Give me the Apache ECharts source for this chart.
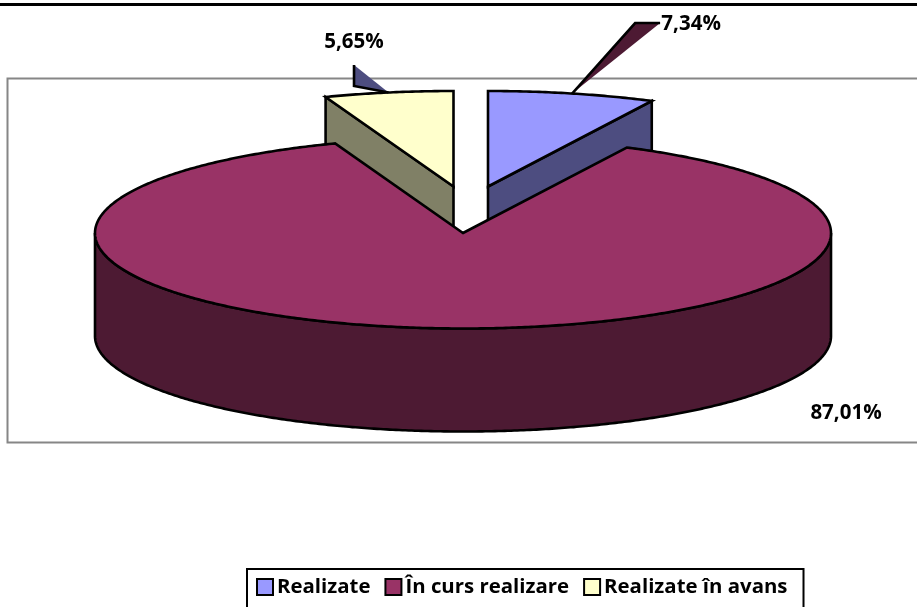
<!DOCTYPE html>
<html><head><meta charset="utf-8">
<style>html,body{margin:0;padding:0;background:#fff;overflow:hidden}#c{width:917px;height:607px}</style>
<script src="https://cdn.jsdelivr.net/npm/echarts@6/dist/echarts.min.js"></script></head>
<body><div id="c"></div>
<script>
const categories = ['Realizate', 'În curs realizare', 'Realizate în avans'];
const shares = [7.34, 87.01, 5.65];
const topColors = ['#9999ff', '#993366', '#ffffcc'];
const sideColors = ['#4d4d80', '#4d1a33', '#808066'];

// pie geometry
const CX = 463, CY = 233, RX = 368, RY = 95.5, DEPTH = 103, LW = 2.6;
const FONT = '"Open Sans"';
const slices = [
  { dx: 25, dy: -46.5, z: 2, labelOff: [119, -69.5], leader: { pts: [[63, -70.5], [88, -70.5]], fill: '#4d1a33' } },
  { dx: 0, dy: 0, z: 3, labelAbs: [846, 413] },
  { dx: -9.5, dy: -46.5, z: 2, labelOff: [-34.5, -50.5], leader: { pts: [[-34.5, -27.5], [-34.5, -6.5]], fill: '#4d4d80' } }
];
const total = shares.reduce((a, b) => a + b, 0);
const rad = d => d * Math.PI / 180;
function rim(cx, cy, deg, drop) {
  return [cx + RX * Math.sin(rad(deg)), cy - RY * Math.cos(rad(deg)) + (drop || 0)];
}
function arc(cx, cy, a, b, drop) {
  const n = Math.max(2, Math.ceil(Math.abs(b - a) * 2)), out = [];
  for (let i = 0; i <= n; i++) out.push(rim(cx, cy, a + (b - a) * i / n, drop));
  return out;
}
const fmt = v => v.toFixed(2).replace('.', ',') + '%';
function poly(points, fill, stroke) {
  return { type: 'polygon', shape: { points }, style: { fill, stroke: stroke === undefined ? '#000' : stroke, lineWidth: LW, lineJoin: 'miter' } };
}
function renderSlice(params, api) {
  const i = params.seriesIndex, v = api.value(0), s = slices[i];
  let before = 0;
  for (let k = 0; k < i; k++) before += shares[k];
  const a0 = before / total * 360, a1 = (before + v) / total * 360, mid = (a0 + a1) / 2;
  const cx = CX + s.dx, cy = CY + s.dy;
  const kids = [];
  // cut faces
  [[a0, -1], [a1, 1]].forEach(([a, sign]) => {
    if (sign * Math.sin(rad(a)) > 0) {
      const r = rim(cx, cy, a);
      kids.push(poly([[cx, cy], r, [r[0], r[1] + DEPTH], [cx, cy + DEPTH]], sideColors[i]));
    }
  });
  // outer wall
  const w0 = Math.max(a0, 90), w1 = Math.min(a1, 270);
  if (w1 > w0) kids.push(poly(arc(cx, cy, w0, w1).concat(arc(cx, cy, w1, w0, DEPTH)), sideColors[i]));
  // top
  kids.push(poly([[cx, cy]].concat(arc(cx, cy, a0, a1)), topColors[i]));
  // leader
  const m = rim(cx, cy, mid);
  if (s.leader) {
    const p = s.leader.pts.map(o => [m[0] + o[0], m[1] + o[1]]);
    kids.push(poly([m, p[0], p[1]], s.leader.fill, null));
    kids.push({ type: 'polyline', shape: { points: i === 0 ? [m, p[0], p[1]] : [p[0], p[1], m] }, style: { fill: null, stroke: '#000', lineWidth: LW } });
  }
  const lp = s.labelAbs || [m[0] + s.labelOff[0], m[1] + s.labelOff[1]];
  kids.push({ type: 'text', style: { text: fmt(v), x: lp[0], y: lp[1], fill: '#000', font: 'bold 20.5px ' + FONT, align: 'center', verticalAlign: 'middle' } });
  return { type: 'group', children: kids };
}
const chart = echarts.init(document.getElementById('c'), null, { renderer: 'canvas' });
chart.setOption({
  animation: false,
  backgroundColor: '#fff',
  graphic: [
    { type: 'rect', z: 0, shape: { x: 7.5, y: 78.5, width: 930, height: 364 }, style: { fill: '#fff', stroke: '#868686', lineWidth: 2 } },
    { type: 'rect', z: 0, shape: { x: 0, y: 3, width: 917, height: 3 }, style: { fill: '#000' } }
  ],
  legend: {
    left: 247, top: 569, orient: 'horizontal', selectedMode: false,
    padding: [8, 16, 24, 9], itemGap: 14, itemWidth: 16, itemHeight: 16,
    borderColor: '#000', borderWidth: 2, backgroundColor: '#fff',
    textStyle: { fontFamily: 'Open Sans', fontWeight: 'bold', fontSize: 20.4, color: '#000', padding: [0, 0, 0, -1] },
    data: categories.map((name, i) => ({ name, icon: 'rect', itemStyle: { color: topColors[i], borderColor: '#000', borderWidth: 2 } }))
  },
  series: categories.map((name, i) => ({
    type: 'custom', name, coordinateSystem: 'none', z: slices[i].z, silent: true, clip: false,
    itemStyle: { color: topColors[i] },
    renderItem: renderSlice,
    data: [[shares[i]]]
  }))
});
</script></body></html>
